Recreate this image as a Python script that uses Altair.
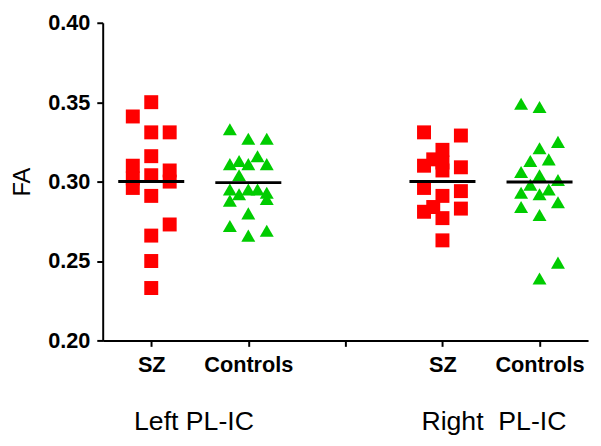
import altair as alt
import pandas as pd

# ---- data ----
group_names = ["SZ", "Controls", "SZ", "Controls"]
group_pos = [1, 2, 4, 5]
tick_labels = ["", "SZ", "Controls", "", "SZ", "Controls"]
region_labels = ["Left PL-IC", "Right\u00a0\u00a0PL-IC"]
region_pos = [1.44, 4.53]

left_sz = [0.350, 0.341, 0.331, 0.331, 0.316, 0.310, 0.307, 0.304, 0.302,
           0.300, 0.296, 0.291, 0.273, 0.266, 0.250, 0.233]
left_sz_col = [0, -2, 0, 2, 0, -2, 2, 0, -2, 2, -2, 0, 2, 0, 0, 0]

left_ctrl = [0.333, 0.327, 0.327, 0.311, 0.313, 0.311, 0.316, 0.311, 0.304,
             0.295, 0.292, 0.295, 0.295, 0.293, 0.288, 0.289, 0.280, 0.272,
             0.269, 0.266]
left_ctrl_col = [-2, 0, 2, -2, -1, 0, 1, 2, -1, -2, -1, 0, 1, 2, -2, 2, 0, -2, 2, 0]

right_sz = [0.331, 0.329, 0.320, 0.314, 0.312, 0.310, 0.309, 0.307, 0.296,
            0.294, 0.291, 0.284, 0.283, 0.281, 0.277, 0.263]
right_sz_col = [-2, 2, 0, -1, 0, -2, 2, 0, -2, 2, 0, -1, 2, -2, 0, 0]

right_ctrl = [0.349, 0.347, 0.325, 0.321, 0.313, 0.314, 0.306, 0.304, 0.301,
              0.298, 0.293, 0.292, 0.295, 0.287, 0.284, 0.279, 0.249, 0.239]
right_ctrl_col = [-2, 0, 2, 0, -1, 1, -2, 0, 2, -1, -2, 0, 1, 2, -2, 0, 2, 0]

series = [left_sz, left_ctrl, right_sz, right_ctrl]
cols = [left_sz_col, left_ctrl_col, right_sz_col, right_ctrl_col]

COL_STEP = 0.095
HALF = 0.34

rows = []
means = []
for name, pos, vals, cc in zip(group_names, group_pos, series, cols):
    for v, c in zip(vals, cc):
        rows.append({"group": name, "x": pos + c * COL_STEP, "FA": v})
    m = sum(vals) / len(vals)
    means.append({"x": pos - HALF, "x2": pos + HALF, "FA": m})

pts = pd.DataFrame(rows)
mdf = pd.DataFrame(means)
lab = pd.DataFrame({"x": region_pos, "label": region_labels})

xscale = alt.Scale(domain=[0.5, 5.5], nice=False, zero=False)
yscale = alt.Scale(domain=[0.2, 0.4], nice=False, zero=False)

label_expr = "[" + ",".join("'" + t + "'" for t in tick_labels) + "][datum.value]"

points = alt.Chart(pts).mark_point(filled=True, opacity=1, size=200).encode(
    x=alt.X("x:Q", scale=xscale,
            axis=alt.Axis(values=[1, 2, 3, 4, 5], labelExpr=label_expr, title=None,
                          labelFontSize=22, labelFontWeight="bold", labelPadding=9,
                          labelFont="Liberation Sans")),
    y=alt.Y("FA:Q", scale=yscale,
            axis=alt.Axis(values=[0.20, 0.25, 0.30, 0.35, 0.40], format=".2f",
                          title="FA", titleFontSize=24, titleFontWeight="normal",
                          titleFont="Liberation Sans", titlePadding=13,
                          labelFontSize=22, labelFontWeight="bold", labelPadding=7,
                          labelFont="Liberation Sans")),
    shape=alt.Shape("group:N", scale=alt.Scale(domain=["SZ", "Controls"],
                                              range=["square", "triangle-up"]), legend=None),
    color=alt.Color("group:N", scale=alt.Scale(domain=["SZ", "Controls"],
                                              range=["#FF0000", "#00CC00"]), legend=None),
)

rules = alt.Chart(mdf).mark_rule(color="black", strokeWidth=3).encode(
    x=alt.X("x:Q", scale=xscale),
    x2="x2:Q",
    y=alt.Y("FA:Q", scale=yscale),
)

texts = alt.Chart(lab).mark_text(fontSize=27, font="Liberation Sans", color="black",
                                 baseline="middle", align="center").encode(
    x=alt.X("x:Q", scale=xscale),
    y=alt.value(405),
    text="label:N",
)

chart = alt.layer(points, rules, texts).properties(
    width=492, height=322,
    autosize=alt.AutoSizeParams(type="none"),
    padding={"left": 96, "top": 12, "right": 5, "bottom": 100},
).configure_view(stroke=None).configure_axis(
    grid=False, domainColor="black", domainWidth=2, tickColor="black",
    tickWidth=2, tickSize=6, labelColor="black", titleColor="black",
)

chart.save("out.html", embed_options={"renderer": "svg", "actions": False})
